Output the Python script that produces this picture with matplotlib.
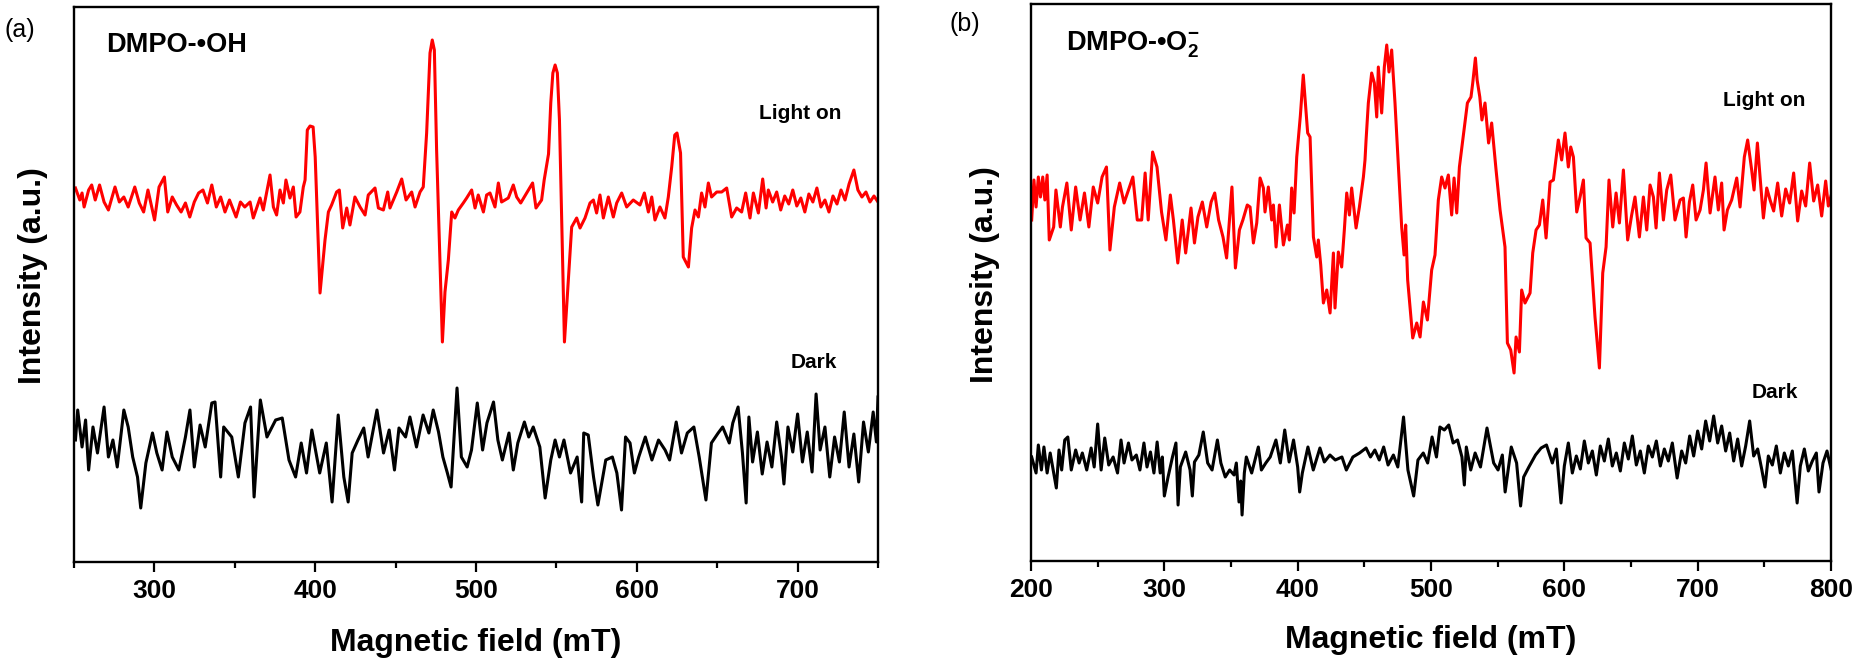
import matplotlib
matplotlib.use("Agg")
import matplotlib.pyplot as plt
from matplotlib.ticker import MultipleLocator

plt.rcParams['font.family'] = ['Liberation Sans', 'DejaVu Sans']
plt.rcParams['font.weight'] = 'bold'
plt.rcParams['mathtext.fontset'] = 'custom'
plt.rcParams['mathtext.rm'] = 'Liberation Sans:bold'
plt.rcParams['mathtext.bf'] = 'Liberation Sans:bold'
plt.rcParams['mathtext.default'] = 'bf'

# ---------------- data (field in mT, intensity in a.u.) ----------------
# panel (a) DMPO-•OH, light on
light_a = [
    (250.9, 374), (253.6, 362), (255.0, 369), (256.3, 355), (259.1, 372), (261.0, 377),
    (263.2, 362), (265.9, 377), (268.7, 360), (271.4, 352), (272.8, 360), (275.5, 375),
    (278.2, 360), (281.0, 365), (283.7, 355), (287.8, 375), (290.6, 359), (293.3, 350),
    (296.0, 372), (300.1, 342), (302.9, 375), (306.2, 385), (308.3, 350), (311.1, 365),
    (313.8, 357), (316.6, 350), (319.3, 359), (322.0, 345), (324.8, 360), (327.5, 369),
    (330.2, 372), (333.0, 359), (335.7, 377), (338.5, 355), (341.2, 365), (343.9, 350),
    (346.7, 362), (350.8, 345), (353.5, 360), (356.2, 355), (359.5, 360), (361.5, 344),
    (365.7, 364), (367.7, 352), (371.9, 387), (374.0, 355), (376.0, 347), (378.1, 372),
    (380.2, 359), (381.8, 382), (384.3, 364), (386.4, 375), (388.1, 345), (390.5, 350),
    (392.6, 375), (393.7, 382), (395.1, 432), (396.8, 436), (398.7, 435), (400.0, 405),
    (403.0, 269), (406.1, 322), (408.2, 350), (410.2, 357), (413.3, 370), (415.0, 372),
    (417.1, 334), (419.6, 354), (421.6, 337), (424.7, 365), (427.9, 355), (431.0, 347),
    (433.0, 367), (437.2, 374), (439.3, 354), (442.4, 352), (445.1, 370), (446.5, 354),
    (450.7, 370), (453.8, 383), (456.5, 362), (460.0, 370), (462.1, 355), (465.2, 370),
    (467.2, 375), (469.3, 429), (471.4, 509), (472.8, 522), (474.1, 512), (475.5, 412),
    (479.1, 220), (480.7, 270), (482.8, 302), (484.9, 350), (486.9, 344), (489.0, 352),
    (492.1, 359), (494.2, 364), (497.3, 372), (499.4, 354), (501.4, 367), (504.6, 350),
    (506.6, 367), (508.7, 369), (511.8, 355), (513.9, 379), (515.9, 360), (520.1, 364),
    (523.2, 377), (525.3, 365), (527.8, 359), (531.5, 369), (535.2, 379), (537.3, 354),
    (540.8, 362), (542.4, 382), (545.1, 408), (546.5, 459), (547.8, 489), (549.2, 497),
    (550.6, 489), (551.9, 442), (555.0, 220), (559.5, 335), (562.6, 344), (564.7, 334),
    (567.8, 344), (570.9, 359), (573.0, 362), (575.0, 349), (577.1, 367), (579.2, 344),
    (582.3, 365), (585.4, 345), (587.5, 359), (590.6, 369), (593.7, 355), (597.8, 362),
    (602.0, 357), (604.7, 369), (607.2, 350), (609.3, 365), (611.3, 342), (614.4, 355),
    (617.5, 344), (619.6, 365), (621.7, 395), (623.6, 427), (625.0, 429), (627.2, 409),
    (628.9, 305), (632.1, 295), (634.1, 334), (636.2, 352), (638.3, 345), (640.3, 369),
    (642.4, 355), (644.5, 379), (646.5, 365), (649.7, 370), (652.8, 370), (655.9, 374),
    (659.0, 345), (662.1, 354), (665.2, 350), (667.7, 369), (670.4, 344), (672.5, 369),
    (675.6, 349), (678.3, 383), (680.4, 354), (681.8, 372), (684.5, 360), (687.0, 370),
    (689.5, 352), (692.0, 366), (694.5, 358), (697.0, 372), (699.5, 356), (702.0, 364),
    (704.5, 350), (707.0, 368), (709.5, 360), (712.0, 374), (714.5, 355), (717.0, 362),
    (719.5, 350), (722.0, 366), (724.5, 358), (727.0, 372), (729.5, 362), (732.0, 378),
    (735.0, 392), (737.5, 372), (740.0, 365), (742.5, 370), (745.0, 360), (747.5, 366),
    (750.0, 360),
]

# panel (a) DMPO-•OH, dark
dark_a = [
    (250.9, 122), (252.3, 152), (255.0, 115), (257.2, 142), (259.1, 92), (261.8, 135),
    (264.6, 109), (268.7, 155), (271.4, 105), (274.2, 122), (276.9, 95), (281.0, 152),
    (283.7, 135), (286.5, 105), (289.5, 85), (291.5, 54), (294.7, 99), (298.8, 129),
    (301.5, 109), (304.8, 92), (307.8, 130), (311.1, 105), (315.2, 92), (319.3, 125),
    (322.1, 152), (324.8, 95), (328.4, 137), (331.6, 115), (335.7, 159), (337.7, 160),
    (341.2, 85), (343.1, 135), (348.1, 125), (352.2, 85), (356.3, 139), (359.8, 155),
    (362.0, 65), (365.9, 162), (370.0, 125), (375.4, 142), (379.5, 144), (383.7, 102),
    (387.8, 85), (391.3, 119), (394.6, 89), (397.9, 132), (402.8, 89), (406.9, 119),
    (410.5, 60), (414.3, 147), (417.8, 85), (420.5, 60), (423.0, 109), (426.6, 122),
    (430.2, 134), (432.9, 105), (438.4, 152), (442.5, 109), (446.0, 132), (449.3, 92),
    (452.1, 134), (456.2, 125), (458.9, 145), (463.0, 115), (467.1, 147), (470.7, 129),
    (473.4, 152), (476.7, 130), (479.4, 105), (482.2, 89), (484.5, 75), (488.2, 174),
    (490.9, 105), (494.5, 95), (497.2, 112), (500.8, 159), (504.1, 112), (506.8, 139),
    (510.9, 160), (513.6, 122), (516.4, 102), (520.5, 129), (523.2, 92), (526.0, 119),
    (530.1, 140), (532.8, 125), (535.6, 135), (539.7, 115), (543.0, 64), (546.5, 102),
    (549.2, 122), (551.9, 105), (554.7, 122), (558.8, 89), (562.9, 105), (565.7, 60),
    (567.0, 129), (569.8, 127), (573.1, 85), (575.8, 57), (580.7, 102), (584.8, 105),
    (587.6, 89), (590.5, 52), (593.0, 125), (595.8, 119), (598.5, 89), (601.2, 105),
    (605.3, 125), (609.4, 102), (613.5, 122), (617.6, 112), (620.4, 102), (624.5, 140),
    (627.8, 109), (631.4, 129), (635.5, 135), (638.8, 105), (643.0, 62), (646.4, 119),
    (650.6, 129), (653.4, 135), (657.5, 119), (659.7, 139), (663.0, 155), (665.7, 109),
    (668.0, 59), (669.7, 145), (672.0, 100), (675.0, 130), (678.0, 88), (681.0, 120),
    (684.0, 95), (687.0, 140), (690.0, 105), (691.5, 78), (694.0, 135), (697.0, 110),
    (700.0, 148), (703.0, 100), (706.0, 130), (709.0, 90), (711.5, 168), (714.0, 112),
    (717.0, 135), (720.0, 85), (723.0, 125), (726.0, 100), (729.0, 150), (732.0, 95),
    (735.0, 128), (738.0, 80), (741.0, 140), (744.0, 110), (747.0, 150), (749.0, 120),
    (750.0, 165),
]

# panel (b) DMPO-•O2-, light on
light_b = [
    (200.5, 341), (202.2, 381), (203.8, 354), (205.5, 384), (207.1, 364), (208.8, 384),
    (210.4, 361), (212.1, 386), (213.7, 321), (217.0, 334), (218.7, 371), (222.0, 334),
    (223.6, 354), (226.9, 378), (230.2, 331), (233.5, 374), (236.8, 341), (240.1, 368),
    (243.4, 334), (246.7, 374), (250.0, 358), (253.3, 384), (256.6, 394), (259.2, 311),
    (262.5, 354), (266.5, 378), (269.8, 358), (273.1, 371), (276.4, 384), (279.7, 341),
    (283.0, 341), (285.6, 388), (287.9, 341), (291.2, 409), (294.5, 394), (297.9, 349),
    (301.2, 321), (304.5, 366), (306.8, 341), (310.1, 298), (313.4, 341), (316.0, 308),
    (320.0, 353), (322.6, 318), (325.2, 344), (328.5, 359), (331.8, 334), (335.1, 359),
    (337.8, 368), (340.7, 341), (344.0, 324), (346.7, 303), (350.7, 374), (353.3, 293),
    (356.3, 331), (358.9, 341), (362.2, 356), (364.3, 354), (366.8, 318), (369.3, 338),
    (371.8, 383), (374.3, 373), (375.5, 349), (378.0, 374), (380.5, 341), (381.8, 356),
    (383.8, 314), (386.3, 356), (389.3, 316), (392.3, 336), (393.8, 321), (395.5, 373),
    (397.3, 348), (399.3, 404), (402.0, 445), (404.2, 486), (406.0, 455), (407.5, 428),
    (409.3, 424), (411.8, 324), (414.3, 304), (415.5, 321), (417.3, 296), (419.3, 258),
    (421.8, 271), (424.3, 248), (426.8, 308), (428.0, 253), (430.5, 309), (433.0, 294),
    (435.0, 331), (436.8, 368), (438.8, 346), (440.5, 373), (443.8, 333), (446.3, 354),
    (449.3, 384), (450.5, 401), (451.3, 421), (453.0, 458), (455.5, 488), (457.5, 478),
    (459.3, 444), (460.5, 494), (463.0, 448), (465.0, 494), (466.8, 516), (468.5, 489),
    (470.5, 511), (473.0, 458), (475.5, 395), (478.0, 334), (479.8, 306), (481.0, 336),
    (482.5, 281), (486.3, 223), (489.3, 238), (491.8, 224), (494.3, 259), (497.3, 241),
    (500.5, 291), (503.0, 306), (505.5, 361), (508.0, 384), (510.5, 373), (513.0, 386),
    (515.5, 346), (517.3, 383), (519.3, 348), (521.3, 394), (523.8, 421), (525.7, 441),
    (527.3, 458), (530.0, 464), (531.3, 478), (533.3, 503), (534.6, 481), (536.6, 464),
    (538.2, 441), (540.5, 458), (543.2, 418), (545.5, 438), (548.8, 391), (551.8, 351),
    (555.5, 314), (557.3, 218), (559.8, 211), (562.3, 188), (563.8, 224), (566.3, 209),
    (568.0, 271), (570.5, 258), (574.3, 268), (576.3, 308), (578.8, 331), (581.3, 336),
    (583.8, 361), (586.3, 323), (589.3, 379), (591.8, 381), (595.5, 421), (598.0, 401),
    (600.5, 428), (603.0, 394), (604.8, 414), (606.8, 404), (609.3, 349), (611.8, 364),
    (614.3, 381), (616.3, 323), (619.3, 318), (623.0, 244), (626.3, 193), (628.8, 288),
    (631.3, 314), (633.5, 381), (636.3, 334), (638.8, 368), (641.3, 338), (644.3, 391),
    (647.5, 321), (650.5, 346), (653.0, 364), (656.3, 324), (659.3, 364), (661.8, 331),
    (664.3, 376), (666.8, 364), (668.8, 333), (671.3, 388), (674.3, 341), (676.8, 371),
    (679.8, 386), (683.0, 341), (686.8, 361), (689.3, 363), (691.3, 324), (693.8, 359),
    (696.3, 376), (698.8, 341), (701.8, 351), (704.3, 371), (706.3, 398), (709.3, 348),
    (713.0, 384), (715.5, 351), (718.0, 378), (719.8, 331), (722.3, 351), (725.5, 361),
    (729.3, 383), (731.8, 354), (735.0, 404), (737.5, 421), (740.5, 391), (742.3, 371),
    (744.8, 418), (746.8, 384), (749.3, 343), (751.8, 373), (754.3, 361), (757.0, 350),
    (760.0, 378), (763.0, 345), (766.0, 372), (769.0, 358), (772.0, 388), (775.0, 340),
    (778.0, 370), (781.0, 355), (784.0, 398), (787.0, 360), (790.0, 376), (793.0, 345),
    (796.0, 380), (798.0, 355), (800.0, 365),
]

# panel (b) DMPO-•O2-, dark
dark_b = [
    (200.5, 104), (203.8, 88), (205.5, 116), (207.8, 91), (209.7, 114), (212.1, 88),
    (214.4, 108), (217.0, 88), (219.0, 73), (221.0, 111), (223.0, 91), (225.3, 121),
    (227.6, 124), (230.2, 91), (233.5, 111), (236.1, 98), (238.5, 108), (241.8, 91),
    (245.1, 113), (247.4, 94), (250.0, 137), (252.6, 91), (255.3, 123), (258.3, 96),
    (261.6, 104), (264.9, 88), (267.5, 121), (269.8, 98), (273.1, 118), (275.7, 101),
    (279.0, 106), (281.7, 91), (284.7, 118), (287.0, 94), (289.6, 109), (292.2, 88),
    (294.6, 119), (296.9, 88), (298.5, 104), (300.0, 65), (302.8, 84), (306.1, 104),
    (308.7, 118), (310.3, 56), (312.0, 94), (316.0, 109), (319.3, 91), (321.0, 65),
    (322.6, 99), (325.9, 106), (329.2, 129), (332.5, 98), (335.8, 91), (339.8, 121),
    (342.4, 98), (345.7, 84), (349.0, 91), (352.3, 86), (354.0, 98), (356.0, 59),
    (357.3, 80), (358.3, 46), (360.0, 88), (361.5, 104), (365.5, 88), (370.5, 114),
    (372.8, 91), (376.1, 98), (379.4, 104), (383.7, 121), (387.0, 98), (390.3, 131),
    (393.6, 99), (396.9, 121), (400.0, 94), (401.5, 69), (403.5, 88), (407.7, 114),
    (411.7, 91), (416.7, 113), (420.0, 99), (424.2, 106), (428.2, 101), (433.2, 104),
    (436.5, 91), (441.4, 104), (446.4, 108), (451.3, 113), (454.6, 104), (457.9, 111),
    (461.2, 101), (464.5, 114), (467.8, 96), (471.8, 106), (475.1, 94), (479.4, 144),
    (482.7, 91), (487.0, 65), (490.2, 101), (494.2, 108), (497.5, 98), (500.8, 124),
    (504.1, 104), (506.7, 134), (510.0, 131), (513.3, 136), (516.6, 118), (519.9, 121),
    (523.2, 104), (525.0, 76), (526.5, 114), (529.8, 91), (533.1, 108), (537.1, 94),
    (542.0, 133), (547.0, 98), (550.3, 91), (553.5, 106), (555.6, 69), (560.2, 114),
    (564.2, 98), (567.2, 55), (569.5, 84), (573.4, 94), (578.4, 106), (582.6, 113),
    (586.6, 116), (591.0, 98), (594.0, 112), (597.5, 58), (600.0, 95), (603.0, 118),
    (606.0, 88), (609.0, 105), (612.0, 92), (615.0, 120), (618.0, 98), (621.0, 110),
    (624.0, 86), (627.0, 115), (630.0, 100), (633.0, 122), (636.0, 95), (639.0, 108),
    (642.0, 90), (645.0, 118), (648.0, 102), (651.0, 125), (654.0, 96), (657.0, 110),
    (660.0, 88), (663.0, 115), (666.0, 104), (669.0, 120), (672.0, 95), (675.0, 112),
    (678.0, 100), (681.0, 118), (684.6, 83), (688.0, 110), (691.0, 98), (694.0, 125),
    (697.0, 105), (700.0, 130), (703.0, 112), (706.0, 140), (709.0, 120), (712.0, 145),
    (715.0, 118), (718.0, 135), (721.0, 110), (724.0, 128), (727.0, 100), (730.0, 122),
    (733.0, 95), (736.0, 115), (739.0, 140), (742.0, 105), (745.0, 112), (748.0, 92),
    (750.5, 74), (753.0, 105), (756.0, 96), (759.0, 115), (762.0, 88), (765.0, 108),
    (768.0, 95), (771.0, 110), (774.6, 58), (777.0, 95), (780.0, 112), (783.0, 90),
    (786.0, 100), (789.0, 108), (791.0, 69), (794.0, 98), (797.0, 110), (800.0, 92),
]

xlim_a = (250, 750)
xlim_b = (200, 800)
xticks_a = [300, 400, 500, 600, 700]
xticks_b = [200, 300, 400, 500, 600, 700, 800]
title_a = "DMPO-\u2022OH"
title_b = "DMPO-\u2022O$_\\mathbf{2}^\\mathbf{-}$"

# ---------------- figure ----------------
W, H = 1858, 662
fig = plt.figure(figsize=(W / 100, H / 100), dpi=100)
ax_a = fig.add_axes([74 / W, (H - 562) / H, 804 / W, 555 / H])
ax_b = fig.add_axes([1031 / W, (H - 561) / H, 800 / W, 557 / H])


def style(ax, xlim, ylim, ticks):
    ax.set_xlim(*xlim)
    ax.set_ylim(*ylim)
    ax.set_yticks([])
    ax.set_xticks(ticks)
    ax.xaxis.set_minor_locator(MultipleLocator(50))
    ax.tick_params(axis='x', which='major', direction='out', length=7.5, width=1.6,
                   labelsize=19, pad=5)
    ax.tick_params(axis='x', which='minor', direction='out', length=4, width=1.6)
    for sp in ax.spines.values():
        sp.set_linewidth(1.7)
    for lbl in ax.get_xticklabels():
        lbl.set_fontweight('bold')


def xy(pairs):
    return [p[0] for p in pairs], [p[1] for p in pairs]


style(ax_a, xlim_a, (0, 555), xticks_a)
style(ax_b, xlim_b, (0, 557), xticks_b)

x, y = xy(light_a)
ax_a.plot(x, y, color='#ff0000', lw=2.2, solid_joinstyle='round')
x, y = xy(dark_a)
ax_a.plot(x, y, color='black', lw=2.2, solid_joinstyle='round')
x, y = xy(light_b)
ax_b.plot(x, y, color='#ff0000', lw=2.2, solid_joinstyle='round')
x, y = xy(dark_b)
ax_b.plot(x, y, color='black', lw=2.2, solid_joinstyle='round')

# texts
ax_a.text(0.040, 0.932, title_a, transform=ax_a.transAxes, fontsize=19.5,
          fontweight='bold', ha='left', va='center')
ax_b.text(0.044, 0.926, title_b, transform=ax_b.transAxes, fontsize=19.5,
          fontweight='bold', ha='left', va='center')
ax_a.text(0.903, 0.809, "Light on", transform=ax_a.transAxes, fontsize=15,
          fontweight='bold', ha='center', va='center')
ax_a.text(0.920, 0.359, "Dark", transform=ax_a.transAxes, fontsize=15,
          fontweight='bold', ha='center', va='center')
ax_b.text(0.916, 0.826, "Light on", transform=ax_b.transAxes, fontsize=15,
          fontweight='bold', ha='center', va='center')
ax_b.text(0.930, 0.303, "Dark", transform=ax_b.transAxes, fontsize=15,
          fontweight='bold', ha='center', va='center')

for ax, xc, yc, yly in ((ax_a, -0.051, 0.517, -0.146), (ax_b, -0.0575, 0.515, -0.142)):
    ax.text(xc, yc, "Intensity (a.u.)", transform=ax.transAxes, rotation=90,
            fontsize=23, fontweight='bold', ha='center', va='center')
    ax.text(0.5, yly, "Magnetic field (mT)", transform=ax.transAxes,
            fontsize=23, fontweight='bold', ha='center', va='center')

fig.text(20 / W, 1 - 30 / H, "(a)", fontsize=18, fontweight='normal',
         ha='center', va='center')
fig.text(965 / W, 1 - 24 / H, "(b)", fontsize=18, fontweight='normal',
         ha='center', va='center')

fig.savefig("out.png", dpi=100)
